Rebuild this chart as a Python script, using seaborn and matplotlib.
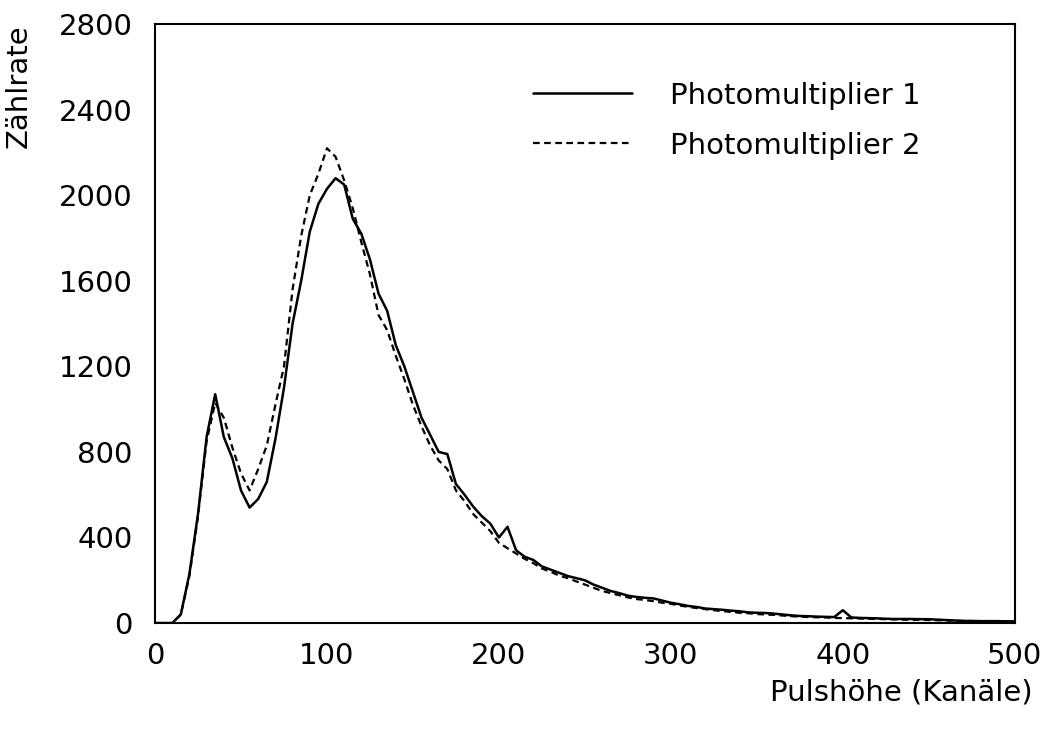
import numpy as np
import pandas as pd
import seaborn as sns
import matplotlib.pyplot as plt
from matplotlib.ticker import MultipleLocator

kanal = list(range(0, 505, 5))

pm1 = [0, 0, 0, 40, 230, 510, 870, 1070, 870, 770,
       620, 540, 580, 660, 860, 1100, 1400, 1600, 1830, 1960,
       2030, 2080, 2050, 1890, 1820, 1700, 1540, 1460, 1300, 1200,
       1080, 960, 880, 800, 790, 650, 600, 545, 500, 465,
       400, 450, 340, 310, 295, 265, 250, 235, 220, 210,
       200, 180, 165, 150, 140, 128, 122, 118, 115, 105,
       95, 88, 80, 75, 68, 65, 62, 58, 55, 50,
       48, 47, 44, 40, 36, 33, 32, 30, 29, 28,
       60, 26, 24, 23, 22, 20, 19, 19, 19, 18,
       18, 16, 14, 12, 10, 10, 9, 9, 9, 8, 8]

pm2 = [0, 0, 0, 40, 220, 500, 850, 1030, 960, 820,
       700, 620, 720, 830, 1020, 1200, 1560, 1810, 2000, 2100,
       2220, 2180, 2070, 1940, 1780, 1630, 1440, 1370, 1250, 1140,
       1020, 920, 830, 760, 720, 620, 570, 510, 470, 430,
       375, 350, 325, 300, 280, 255, 240, 222, 210, 195,
       180, 165, 150, 140, 130, 120, 112, 108, 102, 95,
       90, 82, 76, 70, 65, 60, 56, 52, 48, 46,
       42, 40, 38, 35, 32, 30, 28, 27, 26, 24,
       23, 22, 21, 20, 19, 18, 17, 16, 15, 15,
       14, 13, 12, 11, 10, 9, 9, 8, 8, 7, 7]

df = pd.DataFrame({'Kanal': kanal, 'PM1': pm1, 'PM2': pm2})

sns.set_style('white')
plt.rcParams['font.family'] = ['DejaVu Sans']
plt.rcParams['text.color'] = 'black'
plt.rcParams['axes.labelcolor'] = 'black'

fig = plt.figure(figsize=(10.51, 7.33), dpi=100)
ax = fig.add_axes([0.1475, 0.150, 0.818, 0.817])

sns.lineplot(data=df, x='Kanal', y='PM1', ax=ax, color='black', linewidth=1.8,
             label='Photomultiplier 1')
sns.lineplot(data=df, x='Kanal', y='PM2', ax=ax, color='black', linewidth=1.6,
             dashes=(3, 2), label='Photomultiplier 2')

ax.set_xlim(0, 500)
ax.set_ylim(0, 2800)
ax.xaxis.set_major_locator(MultipleLocator(100))
ax.xaxis.set_minor_locator(MultipleLocator(20))
ax.yaxis.set_major_locator(MultipleLocator(400))
ax.yaxis.set_minor_locator(MultipleLocator(80))
ax.tick_params(which='both', direction='in', width=1.2, colors='black', labelsize=21)
ax.tick_params(which='major', length=11)
ax.tick_params(which='minor', length=6)
ax.tick_params(axis='x', which='major', pad=14)
ax.tick_params(axis='y', which='major', pad=16)

for s in ax.spines.values():
    s.set_color('black')
    s.set_linewidth(1.5)

ax.set_xlabel('Pulshöhe (Kanäle)', fontsize=21, loc='right')
ax.xaxis.set_label_coords(1.021, -0.092)
ax.set_ylabel('Zählrate', fontsize=21, loc='top')
ax.yaxis.set_label_coords(-0.142, 1.0)

ax.legend(loc='upper left', bbox_to_anchor=(0.44, 0.904), frameon=False,
          fontsize=21, handlelength=3.4, handletextpad=1.3, labelspacing=0.75,
          borderpad=0, borderaxespad=0)

fig.savefig('out.png', dpi=100)
